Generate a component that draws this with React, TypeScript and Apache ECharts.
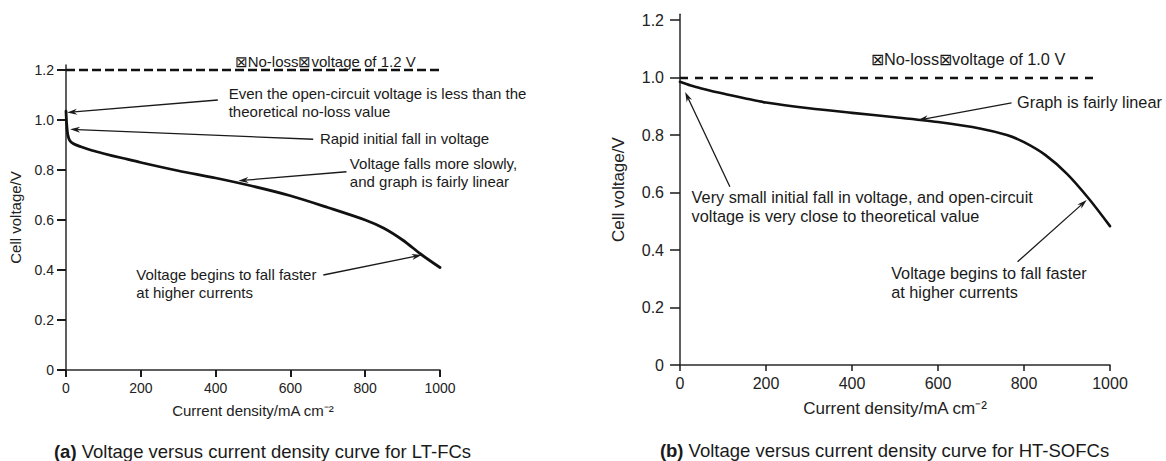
import React, { useEffect, useRef } from "react";
import * as echarts from "echarts";

const FONT = "'Liberation Sans', Arial, Helvetica, sans-serif";
const INK = "#1a1a1a";

// ---- data ----
const xTicks = [0, 200, 400, 600, 800, 1000];
const yTicks = [0, 0.2, 0.4, 0.6, 0.8, 1.0, 1.2];
const xAxisName = "Current density/mA cm\u207B\u00B2";
const yAxisName = "Cell voltage/V";

const ltCurrent = [0, 2, 5, 10, 20, 40, 70, 100, 150, 200, 300, 400, 500, 600, 700, 800, 850, 900, 950, 1000];
const ltVoltage = [1.035, 0.98, 0.94, 0.918, 0.905, 0.893, 0.878, 0.866, 0.848, 0.83, 0.797, 0.768, 0.735, 0.697, 0.65, 0.6, 0.567, 0.52, 0.462, 0.41];
const ltNoLoss = 1.2;
const ltNoLossSpan = [0, 1000];

const htCurrent = [0, 25, 50, 100, 150, 200, 300, 400, 500, 600, 700, 760, 800, 850, 900, 950, 1000];
const htVoltage = [0.985, 0.972, 0.962, 0.944, 0.928, 0.913, 0.893, 0.877, 0.862, 0.845, 0.822, 0.8, 0.775, 0.73, 0.665, 0.58, 0.483];
const htNoLoss = 1.0;
const htNoLossSpan = [0, 975];

// annotation texts (first-line centre anchors in data units)
const ltNoteTexts = [
  ["\u22A0No-loss\u22A0voltage of 1.2 V"],
  ["Even the open-circuit voltage is less than the", "theoretical no-loss value"],
  ["Rapid initial fall in voltage"],
  ["Voltage falls more slowly,", "and graph is fairly linear"],
  ["Voltage begins to fall faster", "at higher currents"],
];
const ltNoteAnchors = [[693, 1.236], [435, 1.107], [679, 0.927], [759, 0.827], [188, 0.384]];
const ltNoteAligns = ["center", "left", "left", "left", "left"];
const ltArrowTails = [[406, 1.08], [661, 0.923], [750, 0.793], [688, 0.38]];
const ltArrowHeads = [[3, 1.03], [11, 0.963], [461, 0.757], [951, 0.46]];

const htNoteTexts = [
  ["\u22A0No-loss\u22A0voltage of 1.0 V"],
  ["Graph is fairly linear"],
  ["Very small initial fall in voltage, and open-circuit", "voltage is very close to theoretical value"],
  ["Voltage begins to fall faster", "at higher currents"],
];
const htNoteAnchors = [[670, 1.063], [784, 0.916], [27, 0.585], [491, 0.319]];
const htNoteAligns = ["center", "left", "left", "left"];
const htArrowTails = [[116, 0.62], [771, 0.912], [785, 0.359]];
const htArrowHeads = [[12, 0.95], [554, 0.852], [946, 0.574]];

const captions = [
  ["(a)", " Voltage versus current density curve for LT-FCs"],
  ["(b)", " Voltage versus current density curve for HT-SOFCs"],
];

function fmt(v: number) {
  return v === 0 ? "0" : v.toFixed(1);
}

function makeX(gridIndex: number, fs: number, tickLen: number, tickW: number, margin: number, nameGap: number) {
  return {
    type: "value",
    gridIndex,
    min: 0,
    max: 1000,
    interval: 200,
    axisLine: { show: true, onZero: false, lineStyle: { color: "#2a2a2a", width: 1.5 } },
    axisTick: { show: true, length: tickLen, lineStyle: { color: "#1a1a1a", width: tickW } },
    splitLine: { show: false },
    axisLabel: {
      show: true,
      customValues: xTicks,
      formatter: (v: number) => String(v),
      margin,
      fontSize: fs,
      color: "#222",
      fontFamily: FONT,
    },
    name: xAxisName,
    nameLocation: "middle",
    nameGap,
    nameTextStyle: { fontSize: fs + 1, color: "#222", fontFamily: FONT },
  };
}

function makeY(gridIndex: number, fs: number, tickLen: number, tickW: number, margin: number, nameGap: number) {
  return {
    type: "value",
    gridIndex,
    min: 0,
    max: 1.22,
    axisLine: { show: true, onZero: false, lineStyle: { color: "#2a2a2a", width: 1.5 } },
    axisTick: { show: true, customValues: yTicks, length: tickLen, lineStyle: { color: "#1a1a1a", width: tickW } },
    splitLine: { show: false },
    axisLabel: {
      show: true,
      customValues: yTicks,
      formatter: (v: number) => fmt(v),
      margin,
      fontSize: fs,
      color: "#222",
      fontFamily: FONT,
    },
    name: yAxisName,
    nameLocation: "middle",
    nameRotate: 90,
    nameGap,
    nameTextStyle: { fontSize: fs + 1, color: "#222", fontFamily: FONT },
  };
}

export default function App() {
  const ref = useRef<HTMLDivElement>(null);

  useEffect(() => {
    document.body.style.margin = "0";
    if (!ref.current) return;
    const chart = echarts.init(ref.current, null, { renderer: "svg" });

    const option: any = {
      animation: false,
      backgroundColor: "#ffffff",
      grid: [
        { left: 66, top: 65, width: 374, height: 305, containLabel: false },
        { left: 680, top: 14.25, width: 430, height: 350.75, containLabel: false },
      ],
      xAxis: [makeX(0, 14, 7, 2, 11, 33), makeX(1, 16, 6, 1.5, 10, 35)],
      yAxis: [makeY(0, 14, 9, 2, 12, 43), makeY(1, 16, 10, 1.5, 16, 53)],
      series: [
        {
          type: "line",
          xAxisIndex: 0,
          yAxisIndex: 0,
          data: ltCurrent.map((c, i) => [c, ltVoltage[i]]),
          smooth: 0.3,
          showSymbol: false,
          lineStyle: { color: "#111", width: 2.8, join: "round", cap: "round" },
          silent: true,
          markLine: {
            silent: true,
            symbol: "none",
            label: { show: false },
            lineStyle: { color: "#111", width: 2.4, type: [9, 4] },
            data: [[{ coord: [ltNoLossSpan[0], ltNoLoss] }, { coord: [ltNoLossSpan[1], ltNoLoss] }]],
          },
        },
        {
          type: "line",
          xAxisIndex: 1,
          yAxisIndex: 1,
          data: htCurrent.map((c, i) => [c, htVoltage[i]]),
          smooth: 0.3,
          showSymbol: false,
          lineStyle: { color: "#111", width: 2.6, join: "round", cap: "round" },
          silent: true,
          markLine: {
            silent: true,
            symbol: "none",
            label: { show: false },
            lineStyle: { color: "#111", width: 2.4, type: [8, 7] },
            data: [[{ coord: [htNoLossSpan[0], htNoLoss] }, { coord: [htNoLossSpan[1], htNoLoss] }]],
          },
        },
      ],
    };
    chart.setOption(option);

    const graphics: any[] = [];
    const toPx = (g: number, p: number[]) => chart.convertToPixel({ gridIndex: g } as any, p) as number[];

    const addNotes = (g: number, texts: string[][], anchors: number[][], aligns: string[], fs: number, lh: number) => {
      texts.forEach((lines, i) => {
        const [px, py] = toPx(g, anchors[i]);
        graphics.push({
          type: "text",
          x: px,
          y: py - lh / 2,
          silent: true,
          z: 100,
          style: {
            text: lines.join("\n"),
            fill: INK,
            fontSize: fs,
            fontFamily: FONT,
            lineHeight: lh,
            align: aligns[i],
            verticalAlign: "top",
          },
        });
      });
    };

    const addArrows = (g: number, tails: number[][], heads: number[][]) => {
      tails.forEach((t, i) => {
        const [x1, y1] = toPx(g, t);
        const [x2, y2] = toPx(g, heads[i]);
        const dx = x2 - x1;
        const dy = y2 - y1;
        const len = Math.sqrt(dx * dx + dy * dy) || 1;
        const ux = dx / len;
        const uy = dy / len;
        const L = 10;
        const W = 3;
        const bx = x2 - ux * L;
        const by = y2 - uy * L;
        graphics.push({
          type: "line",
          silent: true,
          z: 100,
          shape: { x1, y1, x2: x2 - ux * (L - 3), y2: y2 - uy * (L - 3) },
          style: { stroke: INK, lineWidth: 1.3 },
        });
        graphics.push({
          type: "polygon",
          silent: true,
          z: 100,
          shape: {
            points: [
              [x2, y2],
              [bx - uy * W, by + ux * W],
              [x2 - ux * (L - 3), y2 - uy * (L - 3)],
              [bx + uy * W, by - ux * W],
            ],
          },
          style: { fill: INK },
        });
      });
    };

    addNotes(0, ltNoteTexts, ltNoteAnchors, ltNoteAligns, 15, 18);
    addArrows(0, ltArrowTails, ltArrowHeads);
    addNotes(1, htNoteTexts, htNoteAnchors, htNoteAligns, 16.3, 19);
    addArrows(1, htArrowTails, htArrowHeads);

    const capCentres = [[262.5, 451.5], [884.5, 450.5]];
    captions.forEach((c, i) => {
      graphics.push({
        type: "text",
        x: capCentres[i][0],
        y: capCentres[i][1],
        silent: true,
        style: {
          text: `{b|${c[0]}}{n|${c[1]}}`,
          align: "center",
          verticalAlign: "middle",
          rich: {
            b: { fontWeight: "bold", fontSize: 18.5, fontFamily: FONT, fill: INK },
            n: { fontSize: 18.5, fontFamily: FONT, fill: INK },
          },
        },
      });
    });

    chart.setOption({ graphic: { elements: graphics } });

    return () => {
      chart.dispose();
    };
  }, []);

  return <div ref={ref} style={{ width: 1166, height: 461 }} />;
}
